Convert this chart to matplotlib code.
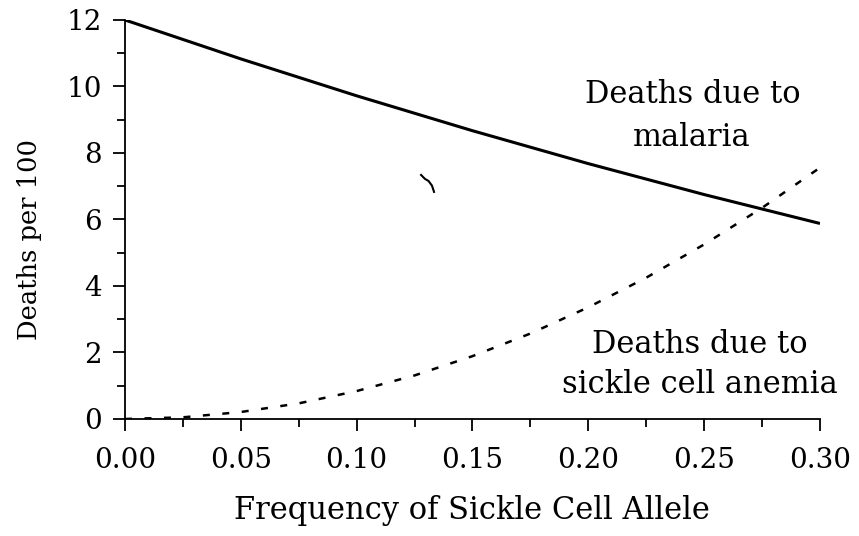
import matplotlib
matplotlib.use("Agg")
import matplotlib.pyplot as plt
from matplotlib.ticker import MultipleLocator, FormatStrFormatter

# Data
p_malaria = [0.0, 0.05, 0.10, 0.15, 0.20, 0.25, 0.30]
deaths_malaria = [12.0, 10.83, 9.72, 8.67, 7.68, 6.75, 5.88]

p_sickle = [0.0, 0.025, 0.05, 0.075, 0.10, 0.125, 0.15, 0.175, 0.20, 0.225, 0.25, 0.275, 0.30]
deaths_sickle = [0.0, 0.05, 0.21, 0.47, 0.84, 1.31, 1.89, 2.57, 3.36, 4.25, 5.25, 6.35, 7.56]

# small stray mark in the original scan
stray_x = [0.1278, 0.1295, 0.1310, 0.1325, 0.1334]
stray_y = [7.34, 7.22, 7.16, 7.02, 6.83]

x_ticks = [0.00, 0.05, 0.10, 0.15, 0.20, 0.25, 0.30]
y_ticks = [0, 2, 4, 6, 8, 10, 12]

plt.rcParams['font.family'] = ['DejaVu Serif']

W, H = 859, 536
fig = plt.figure(figsize=(W / 100, H / 100), dpi=100)
ax = fig.add_axes([0.1455, 0.2183, 0.9546 - 0.1455, 0.9627 - 0.2183])

ax.plot(p_malaria, deaths_malaria, color='black', lw=2.2, solid_capstyle='butt')
ax.plot(p_sickle, deaths_sickle, color='black', lw=1.8, linestyle=(0, (2.8, 5.0)))
ax.plot(stray_x, stray_y, color='black', lw=1.5)

ax.set_xlim(0, 0.30)
ax.set_ylim(0, 12)
ax.set_xticks(x_ticks)
ax.set_yticks(y_ticks)
ax.xaxis.set_major_formatter(FormatStrFormatter('%.2f'))
ax.xaxis.set_minor_locator(MultipleLocator(0.025))
ax.yaxis.set_minor_locator(MultipleLocator(1))

for s in ['top', 'right']:
    ax.spines[s].set_visible(False)
for s in ['left', 'bottom']:
    ax.spines[s].set_linewidth(1.3)

ax.tick_params(which='major', direction='out', length=8.5, width=1.3, labelsize=20)
ax.tick_params(axis='x', which='major', pad=12)
ax.tick_params(axis='y', which='major', pad=8)
ax.tick_params(which='minor', direction='out', length=6, width=1.3)

fig.text(472 / W, 1 - 519 / H, 'Frequency of Sickle Cell Allele', fontsize=22,
         ha='center', va='baseline')
fig.text(30 / W, 1 - 240 / H, 'Deaths per 100', fontsize=18.5, rotation=90,
         ha='center', va='center')

fig.text(692.5 / W, 1 - 103 / H, 'Deaths due to', fontsize=22, ha='center', va='baseline')
fig.text(692 / W, 1 - 146 / H, 'malaria', fontsize=22, ha='center', va='baseline')
fig.text(700 / W, 1 - 353 / H, 'Deaths due to', fontsize=22, ha='center', va='baseline')
fig.text(700 / W, 1 - 393 / H, 'sickle cell anemia', fontsize=22, ha='center', va='baseline')

fig.savefig('out.png', dpi=100)
